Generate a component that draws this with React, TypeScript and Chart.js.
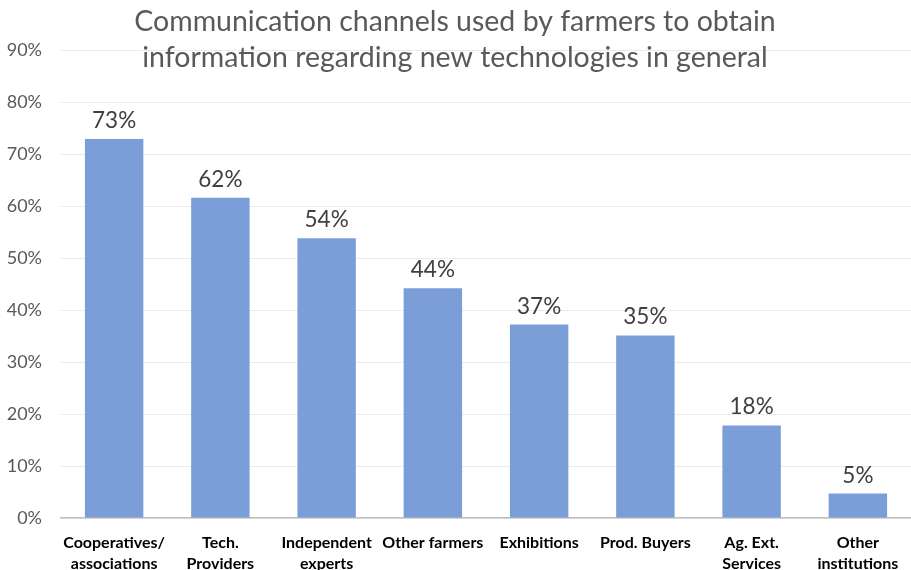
import React, { useEffect, useRef } from "react";
import { Chart, registerables } from "chart.js";

Chart.register(...registerables);

const titleLines = [
  "Communication channels used by farmers to obtain",
  "information regarding new technologies in general",
];
const categories: string[][] = [
  ["Cooperatives/", "associations"],
  ["Tech.", "Providers"],
  ["Independent", "experts"],
  ["Other farmers"],
  ["Exhibitions"],
  ["Prod. Buyers"],
  ["Ag. Ext.", "Services"],
  ["Other", "institutions"],
];
const values = [72.9, 61.6, 53.8, 44.2, 37.2, 35.1, 17.8, 4.7];
const yMax = 90;
const yStep = 10;

const titlePlugin = {
  id: "customTitle",
  afterDraw(chart: any) {
    const ctx = chart.ctx;
    ctx.save();
    ctx.fillStyle = "#595959";
    ctx.font = "28.5px Lato";
    ctx.textAlign = "center";
    ctx.textBaseline = "middle";
    ctx.fillText(titleLines[0], 455, 22);
    ctx.fillText(titleLines[1], 455, 58);
    ctx.restore();
  },
};

const labelPlugin = {
  id: "barLabels",
  afterDatasetsDraw(chart: any) {
    const ctx = chart.ctx;
    const meta = chart.getDatasetMeta(0);
    ctx.save();
    ctx.fillStyle = "#404040";
    ctx.font = "22.5px Lato";
    ctx.textAlign = "center";
    ctx.textBaseline = "alphabetic";
    meta.data.forEach((el: any, i: number) => {
      ctx.fillText(Math.round(values[i]) + "%", el.x, el.y - 11);
    });
    ctx.restore();
  },
};

export default function App() {
  const ref = useRef<HTMLCanvasElement>(null);
  useEffect(() => {
    document.body.style.margin = "0";
    const chart = new Chart(ref.current!, {
      type: "bar",
      data: {
        labels: categories,
        datasets: [
          {
            data: values,
            backgroundColor: "#7B9ED8",
            barPercentage: 0.55,
            categoryPercentage: 1,
          },
        ],
      },
      options: {
        responsive: false,
        animation: false,
        layout: { padding: { top: 50, right: 0, left: 0, bottom: 0 } },
        plugins: {
          legend: { display: false },
          title: { display: false },
          tooltip: { enabled: false },
        },
        scales: {
          x: {
            grid: { display: false, drawTicks: false },
            border: { display: true, color: "#BFBFBF", width: 1.5 },
            ticks: {
              color: "#000000",
              font: { family: "Lato", size: 16, weight: "bold", lineHeight: 1.32 },
              padding: 14,
              maxRotation: 0,
              autoSkip: false,
            },
            afterFit(scale: any) {
              scale.height = 52;
              scale.paddingLeft = 0;
              scale.paddingRight = 0;
            },
          },
          y: {
            min: 0,
            max: yMax,
            grid: { color: "#EBEBEB", drawTicks: false },
            border: { display: false },
            ticks: {
              stepSize: yStep,
              color: "#595959",
              font: { family: "Lato", size: 18 },
              padding: 19,
              callback: (v: any) => v + "%",
            },
            afterFit(scale: any) {
              scale.width = 61;
            },
          },
        },
      },
      plugins: [titlePlugin, labelPlugin],
    });
    return () => chart.destroy();
  }, []);
  return <canvas ref={ref} width={911} height={570} />;
}
